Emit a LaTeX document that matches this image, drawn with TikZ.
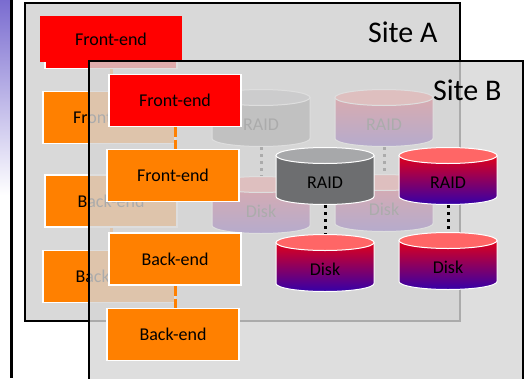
\documentclass[tikz,border=0pt]{standalone}
\usepackage{fontspec}
\setmainfont{Carlito}
\usepackage{xcolor}
\definecolor{front}{RGB}{255,0,0}
\definecolor{back}{RGB}{255,128,0}
\definecolor{sitegray}{RGB}{217,217,217}
\definecolor{sitebgray}{RGB}{214,214,214}
\definecolor{raidgray}{RGB}{109,110,112}
\definecolor{raidtop}{RGB}{167,168,170}
\definecolor{disktop}{RGB}{255,102,102}
\definecolor{diskbottom}{RGB}{51,0,170}
\definecolor{slidebar}{RGB}{122,108,208}

\begin{document}
\begin{tikzpicture}[x=1pt, y=-1pt,
	site/.style = {draw=black, line width=2pt},
	title/.style = {anchor=base east, font=\fontsize{30}{36}\selectfont},
	box/.style = {draw=white, line width=1.5pt, minimum width=132pt, minimum height=52pt, inner sep=0pt, font=\fontsize{18}{21}\selectfont},
	fe/.style = {box, fill=front},
	be/.style = {box, fill=back},
	link/.style = {back, line width=3pt, dash pattern=on 10pt off 3pt},
	dots/.style = {black, line width=3pt, dash pattern=on 3pt off 4pt},
	db/.style n args = {2}{minimum width=100pt, minimum height=58pt, inner sep=0pt, text height=24pt, text depth=0pt, font=\fontsize{18}{21}\selectfont,
		path picture={
			\path[#1, draw=white, line width=1pt] ([xshift=-49pt, yshift=-8.5pt]path picture bounding box.north) -- ([xshift=-49pt, yshift=8.5pt]path picture bounding box.south)
				arc[start angle=180, end angle=360, x radius=49pt, y radius=8pt] -- ([xshift=49pt, yshift=-8.5pt]path picture bounding box.north) -- cycle;
			\filldraw[fill=#2, draw=white, line width=1pt] ([yshift=-8.5pt]path picture bounding box.north) ellipse [x radius=49pt, y radius=8pt];}},
	graydb/.style = {db={fill=raidgray}{raidtop}},
	reddb/.style = {db={top color=front, middle color=front!75!diskbottom, bottom color=diskbottom}{disktop}}]
	\useasboundingbox (0,0) rectangle (525,378);
	\shade[top color=slidebar, bottom color=white] (0,0) rectangle (10,195);
	\draw[line width=2.5pt] (11.5,0) -- (11.5,378);

	\draw[site, fill=sitegray] (25,3) rectangle (460,321);
	\node[title] (tA) at (441,42) {Site A};
	\node[fe] (fA1) at (111,42.5) {};
	\node[box, fill=front, draw=none, minimum width=142pt, minimum height=46pt] (selA) at (111,39) {Front-end};
	\node[be] (fA2) at (109,117.5) {Front-end};
	\node[be] (bA1) at (111,201) {Back-end};
	\node[be] (bA2) at (109,276.5) {Back-end};
	\draw[link] (fA1.south) -- (fA1.south |- fA2.north);
	\draw[link] (bA1.south) -- (bA1.south |- bA2.north);
	\node[graydb] (rA1) at (261,118) {RAID};
	\node[reddb] (rA2) at (384,118) {RAID};
	\node[reddb] (dA1) at (261,205) {Disk};
	\node[reddb] (dA2) at (384,203) {Disk};
	\draw[dots] (rA1.south) -- (dA1.north);
	\draw[dots] (rA2.south) -- (dA2.north);

	\draw[site, fill=sitebgray, fill opacity=0.8] (89,61) rectangle (523,382);
	\node[title] (tB) at (505,100) {Site B};
	\node[fe] (fB1) at (175,100.5) {Front-end};
	\node[be] (fB2) at (173,175.5) {Front-end};
	\node[be] (bB1) at (175,259) {Back-end};
	\node[be] (bB2) at (173,334.5) {Back-end};
	\draw[link] (fB1.south) -- (fB1.south |- fB2.north);
	\draw[link] (bB1.south) -- (bB1.south |- bB2.north);
	\node[graydb] (rB1) at (325,176) {RAID};
	\node[reddb] (rB2) at (448,176) {RAID};
	\node[reddb] (dB1) at (325,263) {Disk};
	\node[reddb] (dB2) at (448,261) {Disk};
	\draw[dots] (rB1.south) -- (dB1.north);
	\draw[dots] (rB2.south) -- (dB2.north);
\end{tikzpicture}
\end{document}
